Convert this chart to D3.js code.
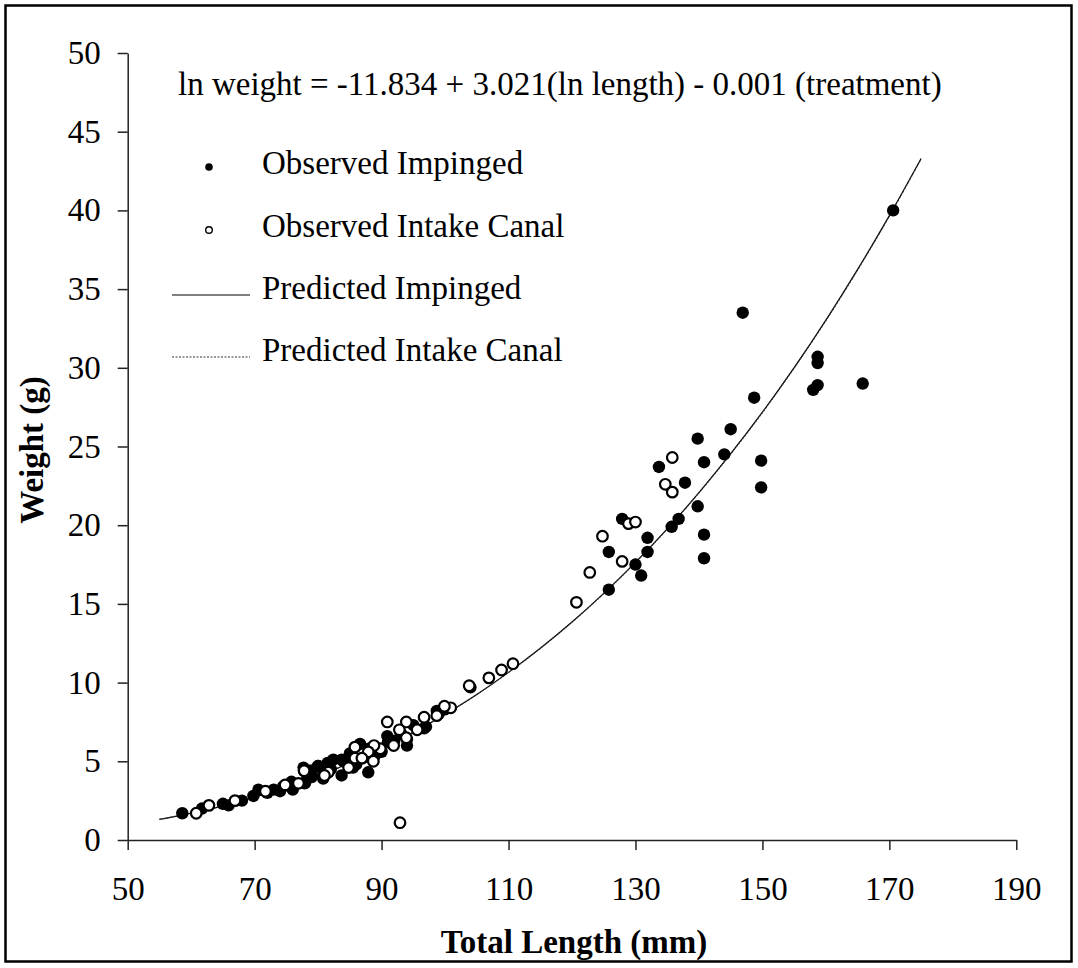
<!DOCTYPE html>
<html>
<head>
<meta charset="utf-8">
<script src="https://cdn.jsdelivr.net/npm/d3@7"></script>
<style>
  body { margin: 0; background: #fff; }
  svg text { font-family: "Times New Roman", "Liberation Serif", serif; fill: #000; }
</style>
</head>
<body>
<svg id="chart" width="1078" height="968"></svg>
<script>
// observed fish, impinged (filled markers): total length (mm), weight (g)
const impLength = [170.6, 146.9, 158.7, 158.7, 158.0, 158.7, 165.8, 148.7, 149.8, 149.8,
  145.0, 139.8, 144.0, 140.8, 133.7, 137.8, 139.8, 136.8, 135.7, 140.8, 140.8,
  127.9, 131.9, 125.8, 131.9, 130.0, 130.9, 125.8,
  104.0, 98.7, 96.7, 94.0, 90.9, 87.9, 86.6, 85.0, 83.7, 82.4, 83.7, 80.0, 78.7, 77.9,
  58.6, 61.7, 65.0, 65.9, 68.0, 69.8, 70.6, 73.0, 74.5, 75.8, 77.7, 79.0, 80.0, 80.8,
  72.0, 74.0, 76.0, 78.0, 79.0, 82.0, 84.0, 86.0, 87.0, 89.0, 90.0, 91.0, 92.0, 93.0,
  95.0, 97.0, 99.0, 100.0, 94.0, 88.0, 85.5, 81.5];
const impWeight = [40.0, 33.5, 30.7, 30.3, 28.6, 28.9, 29.0, 28.1, 24.1, 22.4,
  26.1, 25.5, 24.5, 24.0, 23.7, 22.7, 21.2, 20.4, 19.9, 19.4, 17.9,
  20.4, 19.2, 18.3, 18.3, 17.5, 16.8, 15.9,
  9.7, 8.2, 7.1, 6.0, 6.6, 4.3, 6.1, 5.5, 5.1, 5.1, 4.1, 4.7, 4.4, 3.6,
  1.7, 2.0, 2.3, 2.2, 2.5, 2.8, 3.2, 3.2, 3.4, 3.7, 4.6, 4.4, 4.7, 3.9,
  3.0, 3.1, 3.2, 3.7, 4.0, 4.5, 5.0, 4.8, 5.2, 5.4, 5.6, 6.2, 6.3, 6.8,
  7.3, 7.2, 8.0, 8.3, 6.4, 5.8, 4.6, 4.9];

// observed fish, intake canal (open markers)
const canLength = [135.8, 134.7, 135.8, 128.9, 130.0, 124.8, 127.9, 122.8, 120.7,
  110.7, 108.9, 103.8, 106.9, 100.9, 99.9, 98.7, 96.7, 95.6, 93.9, 90.9, 93.9, 92.8,
  91.9, 89.8, 88.8, 87.9, 88.7, 85.8, 85.8, 86.9, 84.8, 81.6, 80.8, 77.8, 92.9,
  60.8, 62.8, 66.9, 71.7, 74.8, 76.9, 77.8, 81.0];
const canWeight = [24.3, 22.6, 22.1, 20.1, 20.2, 19.3, 17.7, 17.0, 15.1,
  11.2, 10.8, 9.8, 10.3, 8.4, 8.5, 7.9, 7.8, 7.0, 7.5, 7.5, 6.5, 7.0,
  6.0, 5.8, 6.0, 5.6, 5.0, 5.9, 5.2, 5.2, 4.6, 4.3, 4.1, 4.4, 1.1,
  1.7, 2.2, 2.5, 3.1, 3.5, 3.6, 4.4, 4.1];

// predicted curves
const predLength = [55, 60, 65, 70, 75, 80, 85, 90, 95, 100, 105, 110, 115, 120,
  125, 130, 135, 140, 145, 150, 155, 160, 165, 170, 175];
const predImpinged = [1.31, 1.71, 2.17, 2.72, 3.35, 4.07, 4.89, 5.81, 6.84, 7.99,
  9.25, 10.65, 12.18, 13.85, 15.67, 17.64, 19.77, 22.07, 24.54, 27.18, 30.01,
  33.03, 36.25, 39.67, 43.3];
const predCanal = [1.31, 1.71, 2.17, 2.72, 3.35, 4.07, 4.88, 5.80, 6.83, 7.98,
  9.24, 10.64, 12.17, 13.84, 15.65, 17.62, 19.75, 22.05, 24.52, 27.15, 29.98,
  33.0, 36.21, 39.63, 43.26];

const xTicks = [50, 70, 90, 110, 130, 150, 170, 190];
const yTicks = [0, 5, 10, 15, 20, 25, 30, 35, 40, 45, 50];

const svg = d3.select("#chart");

svg.append("rect")
    .attr("x", 5.5).attr("y", 5.5)
    .attr("width", 1066).attr("height", 956)
    .attr("fill", "#fff")
    .attr("stroke", "#000")
    .attr("stroke-width", 2.5);

const x = d3.scaleLinear().domain([50, 190]).range([127.7, 1016.3]);
const y = d3.scaleLinear().domain([0, 50]).range([840, 53]);

const xAxis = svg.append("g")
    .attr("transform", "translate(0,840)")
    .call(d3.axisBottom(x).tickValues(xTicks).tickSize(10).tickPadding(27).tickSizeOuter(0));
xAxis.selectAll("text")
    .attr("font-size", 33)
    .attr("font-family", "'Times New Roman', 'Liberation Serif', serif");

const yAxis = svg.append("g")
    .attr("transform", "translate(127.7,0)")
    .call(d3.axisLeft(y).tickValues(yTicks).tickSize(10).tickPadding(17).tickSizeOuter(0));
yAxis.selectAll("text")
    .attr("font-size", 33)
    .attr("font-family", "'Times New Roman', 'Liberation Serif', serif");

svg.selectAll(".domain, .tick line")
    .attr("stroke", "#222")
    .attr("stroke-width", 1.5);

// axis titles
svg.append("text")
    .attr("x", 574).attr("y", 953)
    .attr("text-anchor", "middle")
    .attr("font-size", 33)
    .attr("font-weight", "bold")
    .text("Total Length (mm)");

svg.append("text")
    .attr("transform", "translate(43,450) rotate(-90)")
    .attr("text-anchor", "middle")
    .attr("font-size", 33)
    .attr("font-weight", "bold")
    .text("Weight (g)");

// predicted lines
const line = d3.line()
    .x(d => x(d[0]))
    .y(d => y(d[1]))
    .curve(d3.curveCatmullRom);

svg.append("path")
    .datum(d3.zip(predLength, predImpinged))
    .attr("d", line)
    .attr("fill", "none")
    .attr("stroke", "#000")
    .attr("stroke-width", 1.2);

svg.append("path")
    .datum(d3.zip(predLength, predCanal))
    .attr("d", line)
    .attr("fill", "none")
    .attr("stroke", "#333")
    .attr("stroke-width", 1.1)
    .attr("stroke-dasharray", "2,1.5");

// observed points
svg.append("g")
    .selectAll("circle")
    .data(d3.zip(impLength, impWeight))
    .join("circle")
    .attr("cx", d => x(d[0]))
    .attr("cy", d => y(d[1]))
    .attr("r", 6.2)
    .attr("fill", "#000");

svg.append("g")
    .selectAll("circle")
    .data(d3.zip(canLength, canWeight))
    .join("circle")
    .attr("cx", d => x(d[0]))
    .attr("cy", d => y(d[1]))
    .attr("r", 5.3)
    .attr("fill", "#fff")
    .attr("stroke", "#000")
    .attr("stroke-width", 2.2);

// equation
svg.append("text")
    .attr("x", 178).attr("y", 95)
    .attr("font-size", 33)
    .text("ln weight = -11.834 + 3.021(ln length) - 0.001 (treatment)");

// legend
const legend = svg.append("g").attr("font-size", 33);
legend.append("circle").attr("cx", 209).attr("cy", 167).attr("r", 3.8).attr("fill", "#000");
legend.append("text").attr("x", 262).attr("y", 174).text("Observed Impinged");
legend.append("circle").attr("cx", 209).attr("cy", 230).attr("r", 3.3)
    .attr("fill", "#fff").attr("stroke", "#000").attr("stroke-width", 1.4);
legend.append("text").attr("x", 262).attr("y", 237).text("Observed Intake Canal");
legend.append("line").attr("x1", 172).attr("x2", 250).attr("y1", 295).attr("y2", 295)
    .attr("stroke", "#000").attr("stroke-width", 1.2);
legend.append("text").attr("x", 262).attr("y", 299).text("Predicted Impinged");
legend.append("line").attr("x1", 172).attr("x2", 250).attr("y1", 357).attr("y2", 357)
    .attr("stroke", "#333").attr("stroke-width", 1.1).attr("stroke-dasharray", "2,1.5");
legend.append("text").attr("x", 262).attr("y", 361).text("Predicted Intake Canal");
</script>
</body>
</html>
